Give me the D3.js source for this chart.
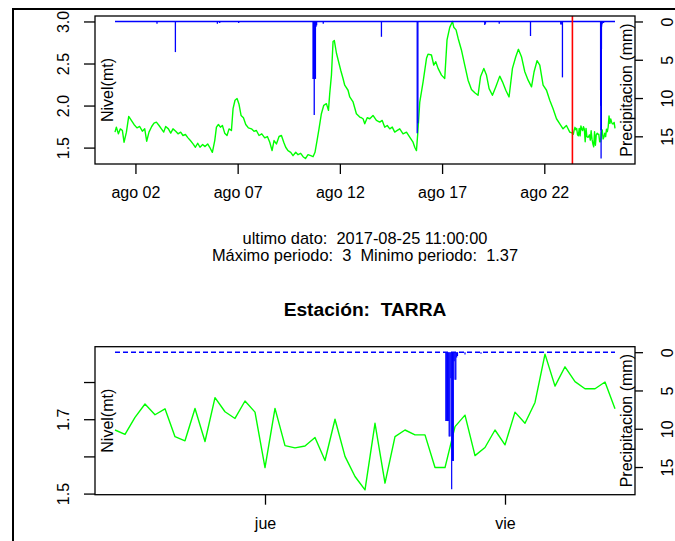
<!DOCTYPE html>
<html><head><meta charset="utf-8">
<script src="https://cdn.jsdelivr.net/npm/d3@7"></script>
<style>
html,body{margin:0;padding:0;background:#fff;}
svg{display:block;font-family:"Liberation Sans",Arial,sans-serif;}
text{white-space:pre;}
</style></head>
<body>
<svg id="chart" width="675" height="541"></svg>
<script>
// ---------- DATA ----------
const inicio = Date.UTC(2017, 7, 1, 0, 0); // 2017-08-01 00:00
// nivel (m) readings: hours since start, values
const nivelHoras = [0,1.6,4.0,6.3,8.7,10.6,13.4,16.1,19.2,22.3,
25.8,29.0,32.1,34.9,37.2,39.9,43.1,45.8,48.6,51.7,
54.5,57.2,59.5,62.7,65.4,68.1,71.3,74.0,77.1,79.8,
82.7,85.7,88.5,91.6,94.4,97.1,99.8,102.9,105.7,108.8,
111.2,114.3,117.1,119.1,121.4,123.8,126.1,128.8,131.5,133.9,
136.7,138.6,140.9,143.3,145.6,148.0,150.8,153.5,156.6,160.2,
163.2,166.0,169.1,172.3,175.8,178.9,181.7,184.4,186.7,189.5,
192.6,195.4,198.1,200.4,203.1,206.3,209.0,212.2,214.9,218.0,
220.8,223.6,226.6,229.8,232.5,234.8,237.2,239.5,242.3,245.1,
248.2,250.6,252.1,254.1,256.0,257.5,260.0,265.0,267.7,269.7,
273.6,275.6,279.5,283.4,287.3,289.3,291.2,293.2,296.1,299.1,
302.9,306.9,310.8,313.7,316.7,319.6,322.6,325.5,328.4,331.4,
334.3,338.2,342.2,346.0,349.9,351.9,353.9,355.4,357.8,361.7,
365.7,367.5,371.5,374.2,376.6,379.3,383.3,387.1,389.8,393.0,
396.2,397.7,400.4,402.8,406.7,410.6,414.5,418.5,422.4,426.2,
429.1,433.0,436.1,439.2,443.1,447.0,451.7,454.9,458.8,462.6,
466.6,470.5,473.6,477.2,481.1,485.0,489.0,492.0,495.5,498.7,
502.6,506.6,510.4,514.3,518.3,522.2,526.0,530.0,533.9];
const nivelValores = [1.684,1.743,1.664,1.723,1.703,1.564,1.684,1.871,1.823,1.775,
1.735,1.751,1.695,1.723,1.576,1.684,1.751,1.791,1.803,1.763,
1.723,1.684,1.751,1.723,1.672,1.723,1.695,1.664,1.684,1.644,
1.656,1.616,1.584,1.544,1.504,1.552,1.504,1.536,1.512,1.544,
1.504,1.444,1.584,1.743,1.775,1.743,1.763,1.672,1.644,1.723,
1.703,1.963,2.063,2.083,2.015,1.883,1.855,1.775,1.735,1.723,
1.695,1.703,1.644,1.664,1.616,1.632,1.564,1.464,1.584,1.544,
1.632,1.644,1.564,1.504,1.464,1.444,1.404,1.444,1.416,1.432,
1.392,1.370,1.416,1.404,1.392,1.444,1.584,1.723,1.903,2.003,
2.023,1.943,2.143,2.362,2.761,2.773,2.622,2.420,2.322,2.242,
2.182,2.102,2.043,1.903,1.863,1.855,1.843,1.783,1.855,1.843,
1.883,1.823,1.803,1.823,1.743,1.763,1.723,1.744,1.684,1.704,
1.723,1.664,1.684,1.624,1.564,1.504,1.464,1.664,2.042,2.282,
2.562,2.611,2.601,2.482,2.521,2.442,2.362,2.322,2.781,2.930,
3.000,2.932,2.900,2.801,2.661,2.481,2.302,2.192,2.152,2.122,
2.342,2.442,2.362,2.202,2.122,2.222,2.350,2.282,2.182,2.102,
2.442,2.581,2.669,2.581,2.402,2.302,2.222,2.402,2.533,2.481,
2.242,2.182,2.063,1.963,1.843,1.783,1.723,1.763,1.684];
// last 50 hours, hourly (starting 2017-08-23 09:00 = hour 537)
const ventanaInicioHora = 537;
const ventanaValores = [1.671,1.659,1.705,1.741,1.712,1.728,1.653,1.642,1.729,1.640,
1.758,1.720,1.702,1.749,1.719,1.570,1.729,1.629,1.623,1.628,
1.651,1.589,1.700,1.600,1.546,1.510,1.689,1.528,1.653,1.671,
1.658,1.658,1.570,1.570,1.680,1.711,1.602,1.624,1.671,1.631,
1.719,1.689,1.745,1.875,1.789,1.841,1.801,1.782,1.782,1.800,
1.728];
// precipitation events (hours since start, mm)
const lluviaHoras = [49.3,70.9,120.2,122.9,145.2,232.5,233.2,233.9,234.6,235.3,236.0,236.7,
244.5,312.8,354.8,355.6,434.1,434.9,451.1,487.8,523.3,524.5,525.3,
570.083,570.167,570.25,570.333,570.417,570.5,570.583,570.667,570.75,570.833,570.917,571.0,571.083,571.167,571.25,
572.0,573.6];
const lluviaMm = [0.3,4.0,0.3,0.2,0.2,7.5,7.5,12.2,7.5,7.5,0.7,0.5,
0.3,2.0,14.6,13.3,0.45,0.3,0.3,1.9,0.4,0.4,7.3,
9.0,9.0,9.0,9.0,11.0,11.0,3.4,17.9,14.2,14.2,1.2,3.6,3.6,0.7,0.5,
0.3,0.2];
const ultimaHora = 587; // 2017-08-25 11:00
const topTickFechas = ["2017-08-02","2017-08-07","2017-08-12","2017-08-17","2017-08-22"];
const topTickEtiquetas = ["ago 02","ago 07","ago 12","ago 17","ago 22"];
const botTickFechas = ["2017-08-24","2017-08-25"];
const botTickEtiquetas = ["jue","vie"];
const nivelTopTicks = [1.5,2.0,2.5,3.0];
const nivelBotTicks = [1.5,1.6,1.7,1.8];
const nivelBotEtiquetas = ["1.5","","1.7",""];
const lluviaTicks = [0,5,10,15];
const textoUltimo = "ultimo dato:  2017-08-25 11:00:00";
const textoMaxMin = "Máximo periodo:  3  Minimo periodo:  1.37";
const titulo = "Estación:  TARRA";

// ---------- HELPERS ----------
const H = 3600e3;
const toDate = h => new Date(inicio + h * H);
const parseDay = d3.utcParse("%Y-%m-%d");
const nivelTop = d3.zip(nivelHoras, nivelValores)
  .concat(ventanaValores.map((v, i) => [ventanaInicioHora + i, v]));
const nivelBot = ventanaValores.map((v, i) => [ventanaInicioHora + i, v]);
const lluvia = d3.zip(lluviaHoras, lluviaMm);

const svg = d3.select("#chart");
const font = '"Liberation Sans",Arial,sans-serif';
const FS = 16;

// outer frame
svg.append("rect").attr("x", 13).attr("y", 9).attr("width", 720).attr("height", 600)
  .attr("fill", "none").attr("stroke", "#000").attr("stroke-width", 2);

function panel(opt) {
  const L = 95, R = 635, T = opt.top, B = opt.top + 148;
  const h0 = opt.h0, h1 = opt.h1, pad = (h1 - h0) * 0.04;
  const x = d3.scaleUtc().domain([toDate(h0 - pad), toDate(h1 + pad)]).range([L, R]);
  const y = d3.scaleLinear().domain(opt.yDom).range([B, T]);
  const yp = d3.scaleLinear().domain([-0.716, 18.616]).range([T, B]);
  const g = svg.append("g");

  // green level line
  g.append("path").datum(opt.nivel)
    .attr("fill", "none").attr("stroke", "#00ff00").attr("stroke-width", 1.4)
    .attr("stroke-linejoin", "round")
    .attr("d", d3.line().x(d => x(toDate(d[0]))).y(d => y(d[1])));

  // precipitation baseline
  g.append("line")
    .attr("x1", x(toDate(h0))).attr("x2", x(toDate(h1)))
    .attr("y1", yp(0)).attr("y2", yp(0))
    .attr("stroke", "#0000ff").attr("stroke-width", 1.4)
    .attr("stroke-dasharray", opt.dashed ? "5,3" : null);

  // precipitation bars
  g.selectAll(null).data(lluvia.filter(d => d[0] >= h0 && d[0] <= h1)).join("line")
    .attr("x1", d => x(toDate(d[0]))).attr("x2", d => x(toDate(d[0])))
    .attr("y1", yp(0)).attr("y2", d => yp(d[1]))
    .attr("stroke", "#0000ff").attr("stroke-width", opt.barW);

  if (opt.redLine != null) {
    g.append("line").attr("x1", x(toDate(opt.redLine))).attr("x2", x(toDate(opt.redLine)))
      .attr("y1", T).attr("y2", B).attr("stroke", "#ff0000").attr("stroke-width", 1.6);
  }

  // box
  g.append("rect").attr("x", L).attr("y", T).attr("width", R - L).attr("height", B - T)
    .attr("fill", "none").attr("stroke", "#000").attr("stroke-width", 1.3);

  // x axis
  const xa = g.append("g").attr("transform", `translate(0,${B})`)
    .call(d3.axisBottom(x).tickValues(opt.xTicks.map(parseDay))
      .tickFormat((d, i) => opt.xLabels[i]).tickSize(10).tickPadding(13));
  xa.select(".domain").remove();
  xa.selectAll("line").attr("stroke-width", 1.3);
  xa.selectAll("text").attr("font-size", FS).attr("font-family", font).attr("fill", "#000");

  // left axis
  const ya = g.append("g").attr("transform", `translate(${L},0)`)
    .call(d3.axisLeft(y).tickValues(opt.yTicks)
      .tickFormat((d, i) => opt.yLabels[i]).tickSize(11).tickPadding(0));
  ya.select(".domain").remove();
  ya.selectAll("line").attr("stroke-width", 1.3);
  ya.selectAll("text").attr("font-size", FS).attr("font-family", font).attr("fill", "#000")
    .attr("text-anchor", "middle").attr("x", null)
    .attr("transform", "translate(-32,0) rotate(-90)").attr("dy", "0.35em");

  // right axis
  const ra = g.append("g").attr("transform", `translate(${R},0)`)
    .call(d3.axisRight(yp).tickValues(lluviaTicks).tickSize(8).tickPadding(0));
  ra.select(".domain").remove();
  ra.selectAll("line").attr("stroke-width", 1.3);
  ra.selectAll("text").attr("font-size", FS).attr("font-family", font).attr("fill", "#000")
    .attr("text-anchor", "middle").attr("x", null)
    .attr("transform", "translate(32,0) rotate(-90)").attr("dy", "0.35em");

  // axis titles inside the box
  g.append("text").attr("transform", `translate(107,${(T + B) / 2}) rotate(-90)`)
    .attr("text-anchor", "middle").attr("dy", "0.35em")
    .attr("font-size", FS).text("Nivel(mt)");
  g.append("text").attr("transform", `translate(626,${(T + B) / 2}) rotate(-90)`)
    .attr("text-anchor", "middle").attr("dy", "0.35em")
    .attr("font-size", FS).text("Precipitacion (mm)");
}

panel({ top: 16, h0: 0, h1: ultimaHora, yDom: [1.305, 3.065], nivel: nivelTop,
  dashed: false, barW: 1.3, redLine: ventanaInicioHora,
  xTicks: topTickFechas, xLabels: topTickEtiquetas,
  yTicks: nivelTopTicks, yLabels: nivelTopTicks.map(d => d.toFixed(1)) });

panel({ top: 346.7, h0: ventanaInicioHora, h1: ventanaInicioHora + ventanaValores.length - 1,
  yDom: [1.497, 1.895], nivel: nivelBot, dashed: true, barW: 1.2, redLine: null,
  xTicks: botTickFechas, xLabels: botTickEtiquetas,
  yTicks: nivelBotTicks, yLabels: nivelBotEtiquetas });

// texts
svg.append("text").attr("x", 365).attr("y", 244).attr("text-anchor", "middle")
  .attr("font-size", 16.4).text(textoUltimo);
svg.append("text").attr("x", 365).attr("y", 261).attr("text-anchor", "middle")
  .attr("font-size", 16.4).text(textoMaxMin);
svg.append("text").attr("x", 365).attr("y", 316).attr("text-anchor", "middle")
  .attr("font-size", 19.2).attr("font-weight", "bold").text(titulo);
</script>
</body></html>
